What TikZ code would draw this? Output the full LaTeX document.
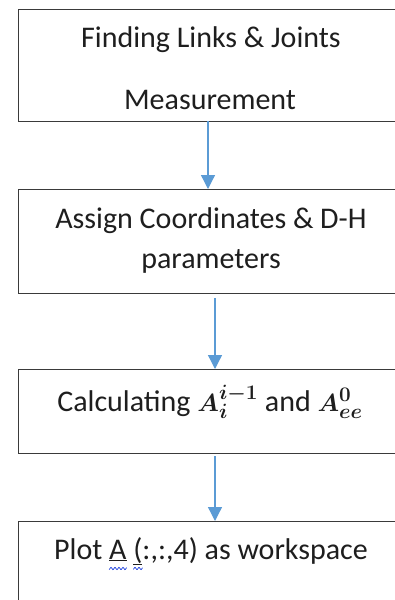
\documentclass[tikz,border=0pt]{standalone}
\usepackage{fontspec}
\setmainfont{Carlito}
\usetikzlibrary{arrows.meta}
\definecolor{arrblue}{HTML}{5B9BD5}
\definecolor{boxline}{HTML}{3A3A3A}
\definecolor{txt}{HTML}{1E1E1E}
\definecolor{wavecol}{HTML}{2F4FE0}
\newcommand\mymath[1]{{\fontsize{32}{38}\selectfont\boldmath\(#1\)}}
\tikzset{
  box/.style={draw=boxline, line width=1.2pt, anchor=north west, inner sep=0pt, minimum width=387pt},
  lbl/.style={anchor=base, inner sep=0pt, text=txt, font=\fontsize{30}{36}\selectfont},
  arr/.style={draw=arrblue, line width=1.3pt, -{Triangle[width=14pt,length=14pt]}},
  squig/.style={draw=wavecol, line width=0.8pt}
}
\begin{document}
\begin{tikzpicture}[x=1pt,y=-1pt]
\useasboundingbox (0,0) rectangle (395,600);
\clip (0,0) rectangle (395,600);
% boxes
\node[box, minimum height=112pt] (b1) at (18,9) {};
\node[box, minimum height=104pt] (b2) at (18,189) {};
\node[box, minimum height=84pt] (b3) at (18,369) {};
\node[box, minimum height=100pt] (b4) at (18,521) {};
% texts
\node[lbl] (t1a) at (211,47) {Finding Links \& Joints};
\node[lbl] (t1b) at (210,109) {Measurement};
\node[lbl] (t2a) at (211,228) {Assign Coordinates \& D-H};
\node[lbl] (t2b) at (211,268) {parameters};
\node[lbl] (t3) at (210,411) {Calculating \mymath{A_i^{i-1}} and \mymath{A_{ee}^{0}}};
\node[lbl] (t4) at (211,559) {Plot \underline{A} \underline{(}:,:,4) as workspace};
% spell-check squiggles under "A" and "("
{\fontsize{30}{36}\selectfont
\pgfmathsetmacro{\wfull}{width("Plot A (:,:,4) as workspace")}
\pgfmathsetmacro{\wpre}{width("Plot ")}
\pgfmathsetmacro{\wA}{width("A")}
\pgfmathsetmacro{\wpreB}{width("Plot A ")}
\pgfmathsetmacro{\wB}{width("(")}
\pgfmathsetmacro{\xa}{211-\wfull/2+\wpre}
\pgfmathsetmacro{\xb}{\xa+\wA}
\pgfmathsetmacro{\xc}{211-\wfull/2+\wpreB}
\pgfmathsetmacro{\xd}{\xc+\wB}
\draw[squig] plot[domain=\xa:\xb, samples=30, smooth] (\x, {568.5+1.1*sin(\x*90)});
\draw[squig] plot[domain=\xc:\xd, samples=15, smooth] (\x, {568.5+1.1*sin(\x*90)});
}
% arrows
\coordinate (a1) at (208,121);
\coordinate (a2) at (215,298);
\coordinate (a3) at (215,456);
\draw[arr] (a1) -- (b2.north -| a1);
\draw[arr] (a2) -- (b3.north -| a2);
\draw[arr] (a3) -- (b4.north -| a3);
\end{tikzpicture}
\end{document}
